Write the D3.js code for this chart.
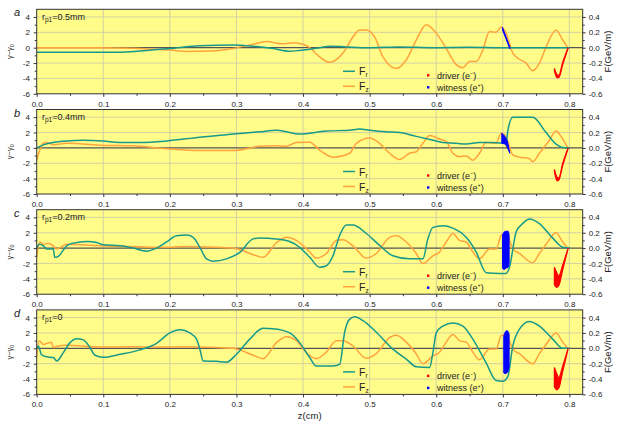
<!DOCTYPE html>
<html>
<head>
<meta charset="utf-8">
<script src="https://cdn.jsdelivr.net/npm/d3@7"></script>
<style>
body { margin: 0; background: #fff; }
text { font-family: Arial, "Liberation Sans", sans-serif; fill: #222; }
</style>
</head>
<body>
<div id="chart"></div>
<script>
// panel titles
var panelNames = ["a", "b", "c", "d"];
var panelRp = ["=0.5mm", "=0.4mm", "=0.2mm", "=0"];

// tick values
var xTicks = [0, 0.1, 0.2, 0.3, 0.4, 0.5, 0.6, 0.7, 0.8];
var xMinor = [0.05, 0.15, 0.25, 0.35, 0.45, 0.55, 0.65, 0.75];
var leftTicks = [-6, -4, -2, 0, 2, 4];
var leftMinor = [-5, -3, -1, 1, 3];
var rightTicks = [-0.6, -0.4, -0.2, 0, 0.2, 0.4];
var rightMinor = [-0.5, -0.3, -0.1, 0.1, 0.3];

// Fr (GeV/m)
var zFrA = [0, 0.06, 0.12, 0.16, 0.2, 0.245, 0.295, 0.325, 0.355, 0.38, 0.395, 0.425, 0.44, 0.465, 0.5, 0.545, 0.595, 0.65, 0.7, 0.75, 0.8];
var frA  = [-0.06, -0.06, -0.06, -0.04, -0.01, 0.026, 0.035, 0.02, -0.01, -0.045, -0.035, 0, 0.02, 0.01, 0, 0.01, 0, 0.005, 0, 0, 0];
var zFrB = [0, 0.01, 0.025, 0.045, 0.07, 0.1, 0.125, 0.155, 0.195, 0.245, 0.295, 0.335, 0.36, 0.38, 0.395, 0.435, 0.47, 0.485, 0.5, 0.525, 0.545, 0.57, 0.595, 0.61, 0.63, 0.645, 0.665, 0.685, 0.705, 0.7075, 0.715, 0.745, 0.765, 0.78, 0.79, 0.8];
var frB  = [0, 0.04, 0.07, 0.09, 0.1, 0.09, 0.07, 0.07, 0.09, 0.14, 0.18, 0.21, 0.23, 0.2, 0.18, 0.22, 0.23, 0.245, 0.23, 0.21, 0.2, 0.15, 0.1, 0.07, 0.06, 0.05, 0.07, 0.07, 0.06, 0.22, 0.4, 0.4, 0.2, 0.05, 0.005, 0];
var zFrC = [0, 0.0035, 0.01, 0.015, 0.025, 0.027, 0.032, 0.045, 0.055, 0.075, 0.09, 0.1, 0.125, 0.145, 0.165, 0.18, 0.195, 0.21, 0.225, 0.235, 0.245, 0.255, 0.265, 0.285, 0.305, 0.325, 0.335, 0.36, 0.38, 0.395, 0.41, 0.425, 0.435, 0.445, 0.455, 0.465, 0.475, 0.495, 0.515, 0.535, 0.56, 0.58, 0.5875, 0.595, 0.61, 0.625, 0.645, 0.66, 0.675, 0.695, 0.705, 0.71, 0.72, 0.73, 0.74, 0.755, 0.775, 0.79, 0.8];
var frC  = [-0.01, 0.05, 0.03, -0.01, -0.01, -0.12, -0.11, 0.03, 0.065, 0.087, 0.074, 0.043, 0.03, 0, -0.04, 0, 0.08, 0.16, 0.17, 0.14, 0.01, -0.14, -0.17, -0.14, -0.056, 0.12, 0.13, 0.12, 0.087, 0.01, -0.12, -0.25, -0.23, -0.1, 0.165, 0.3, 0.3, 0.19, 0.035, -0.1, -0.14, -0.14, 0.12, 0.27, 0.29, 0.26, 0.14, -0.05, -0.32, -0.33, -0.33, -0.25, 0.21, 0.32, 0.38, 0.32, 0.13, 0.01, 0];
var zFrD = [0, 0.0025, 0.007, 0.015, 0.025, 0.03, 0.04, 0.05, 0.06, 0.07, 0.08, 0.087, 0.1, 0.125, 0.155, 0.18, 0.2, 0.215, 0.23, 0.24, 0.245, 0.25, 0.27, 0.285, 0.3, 0.32, 0.34, 0.355, 0.38, 0.395, 0.41, 0.42, 0.445, 0.455, 0.4625, 0.47, 0.4775, 0.49, 0.51, 0.535, 0.555, 0.57, 0.59, 0.595, 0.6, 0.61, 0.625, 0.64, 0.655, 0.675, 0.69, 0.7, 0.7075, 0.715, 0.725, 0.74, 0.755, 0.775, 0.79, 0.8];
var frD  = [-0.01, 0.03, -0.08, -0.11, -0.12, -0.165, -0.056, 0.074, 0.126, 0.11, 0.01, -0.087, -0.117, -0.078, -0.02, 0.065, 0.2, 0.24, 0.2, 0.12, -0.01, -0.165, -0.17, -0.18, -0.078, 0.12, 0.26, 0.256, 0.2, 0.074, -0.12, -0.23, -0.23, -0.21, 0.21, 0.38, 0.41, 0.36, 0.21, -0.01, -0.14, -0.24, -0.25, -0.06, 0.2, 0.29, 0.33, 0.29, 0.12, -0.19, -0.42, -0.43, -0.37, 0.03, 0.25, 0.35, 0.29, 0.12, 0, 0];

// Fz (GeV/m)
var zFzA = [0, 0.095, 0.2, 0.225, 0.27, 0.295, 0.325, 0.345, 0.37, 0.385, 0.4, 0.41, 0.425, 0.44, 0.46, 0.475, 0.485, 0.495, 0.5075, 0.52, 0.54, 0.555, 0.57, 0.585, 0.6, 0.615, 0.63, 0.64, 0.65, 0.66, 0.67, 0.68, 0.69, 0.6975, 0.705, 0.715, 0.725, 0.735, 0.745, 0.755, 0.765, 0.78, 0.79, 0.7975];
var fzA  = [0, 0, -0.03, -0.05, -0.04, -0.01, 0.045, 0.08, 0.05, 0.065, 0.045, 0, -0.12, -0.19, -0.07, 0.14, 0.23, 0.23, 0.14, -0.12, -0.27, -0.16, 0.1, 0.3, 0.19, -0.01, -0.22, -0.26, -0.18, -0.18, -0.03, 0.21, 0.2, 0.27, 0.19, -0.07, -0.15, -0.2, -0.3, -0.2, 0.01, 0.23, 0.1, 0];
var zFzB = [0, 0.01, 0.015, 0.025, 0.045, 0.095, 0.145, 0.195, 0.245, 0.295, 0.335, 0.36, 0.375, 0.39, 0.41, 0.425, 0.445, 0.47, 0.48, 0.5, 0.515, 0.53, 0.545, 0.56, 0.57, 0.58, 0.59, 0.605, 0.615, 0.625, 0.635, 0.645, 0.655, 0.665, 0.675, 0.69, 0.6975, 0.705, 0.715, 0.725, 0.74, 0.745, 0.755, 0.77, 0.78, 0.7875, 0.7975];
var fzB  = [-0.16, 0.06, 0.07, 0.04, 0.06, 0.035, 0.027, -0.01, -0.035, -0.035, 0.02, 0.027, 0.02, 0.07, 0.075, -0.03, -0.12, -0.07, 0.06, 0.13, 0.06, -0.07, -0.15, -0.07, -0.05, 0.06, 0.16, 0.115, 0.085, -0.07, -0.115, -0.105, -0.16, -0.07, 0.07, 0.06, 0.19, 0.14, -0.09, -0.12, -0.14, -0.18, -0.07, 0.1, 0.22, 0.15, 0];
var zFzC = [0, 0.0045, 0.01, 0.017, 0.025, 0.03, 0.045, 0.095, 0.145, 0.195, 0.22, 0.27, 0.295, 0.33, 0.34, 0.36, 0.375, 0.39, 0.41, 0.42, 0.435, 0.45, 0.46, 0.475, 0.495, 0.51, 0.53, 0.54, 0.555, 0.57, 0.58, 0.595, 0.605, 0.615, 0.625, 0.635, 0.645, 0.655, 0.665, 0.68, 0.69, 0.6975, 0.705, 0.715, 0.725, 0.745, 0.755, 0.765, 0.78, 0.79, 0.7975];
var fzC  = [-0.12, 0.08, 0.05, 0.06, 0.03, -0.01, 0.05, 0.03, 0.02, 0.01, 0.02, 0.01, 0, -0.1, -0.12, 0.07, 0.14, 0.1, -0.05, -0.13, -0.07, 0.1, 0.11, 0.03, -0.13, -0.07, 0.14, 0.16, 0.08, -0.07, -0.2, -0.1, -0.05, 0.08, 0.19, 0.1, 0.08, -0.05, -0.14, -0.01, -0.01, 0.165, 0.19, -0.01, -0.07, -0.19, -0.07, 0.05, 0.2, 0.08, 0];
var zFzD = [0, 0.0035, 0.01, 0.017, 0.022, 0.025, 0.032, 0.045, 0.095, 0.145, 0.195, 0.22, 0.27, 0.295, 0.325, 0.34, 0.36, 0.375, 0.39, 0.405, 0.42, 0.435, 0.45, 0.46, 0.475, 0.495, 0.51, 0.53, 0.54, 0.555, 0.57, 0.58, 0.595, 0.605, 0.615, 0.625, 0.635, 0.645, 0.655, 0.665, 0.68, 0.69, 0.6975, 0.705, 0.715, 0.725, 0.745, 0.755, 0.765, 0.78, 0.79, 0.7975];
var fzD  = [-0.1, 0.1, 0.05, 0.07, 0.08, 0.01, 0.03, 0.04, 0.017, 0.02, 0.017, 0.02, 0.01, 0, -0.09, -0.135, 0.074, 0.15, 0.1, -0.056, -0.135, -0.05, 0.1, 0.1, 0.03, -0.13, -0.07, 0.14, 0.17, 0.08, -0.07, -0.2, -0.1, -0.05, 0.08, 0.18, 0.1, 0.08, -0.05, -0.15, -0.01, -0.01, 0.165, 0.18, -0.01, -0.07, -0.2, -0.07, 0.05, 0.2, 0.08, 0];

// witness bunch (gamma - gamma0): z, upper and lower edge
var zWitA = [0.6995, 0.705, 0.7105];
var witUpA = [2.65, 1.4, 0.1];
var witLoA = [2.35, 1.1, -0.15];
var zWitB = [0.6985, 0.703, 0.707, 0.7105];
var witUpB = [1.9, 1.5, 0.8, -0.7];
var witLoB = [0.6, 0.5, 0.0, -0.7];
var zWitC = [0.6995, 0.702, 0.705, 0.708, 0.7095];
var witUpC = [1.7, 2.1, 2.2, 2.2, 1.7];
var witLoC = [-2.6, -2.8, -2.6, -2.5, -2.0];
var zWitD = [0.7015, 0.7035, 0.706, 0.708, 0.7095];
var witUpD = [1.6, 2.1, 2.3, 2.2, 1.8];
var witLoD = [-3.2, -3.3, -3.2, -3.0, -2.5];

// driver bunch (gamma - gamma0)
var zDrvA = [0.7775, 0.7815, 0.784, 0.79, 0.798];
var drvUpA = [-2.7, -3.5, -3.6, -1.9, 0];
var drvLoA = [-3.0, -3.9, -3.9, -2.2, -0.1];
var zDrvB = [0.7775, 0.7815, 0.784, 0.79, 0.798];
var drvUpB = [-2.8, -3.8, -3.9, -2.0, 0];
var drvLoB = [-3.1, -4.3, -4.2, -2.3, -0.1];
var zDrvC = [0.7775, 0.781, 0.784, 0.79, 0.798];
var drvUpC = [-2.5, -3.2, -3.6, -2.2, 0];
var drvLoC = [-4.8, -5.1, -4.9, -2.8, -0.1];
var zDrvD = [0.7775, 0.781, 0.784, 0.79, 0.798];
var drvUpD = [-2.5, -3.3, -3.8, -2.3, 0];
var drvLoD = [-5.0, -5.4, -5.2, -3.0, -0.1];

var zFr = [zFrA, zFrB, zFrC, zFrD], fr = [frA, frB, frC, frD];
var zFz = [zFzA, zFzB, zFzC, zFzD], fz = [fzA, fzB, fzC, fzD];
var zWit = [zWitA, zWitB, zWitC, zWitD], witUp = [witUpA, witUpB, witUpC, witUpD], witLo = [witLoA, witLoB, witLoC, witLoD];
var zDrv = [zDrvA, zDrvB, zDrvC, zDrvD], drvUp = [drvUpA, drvUpB, drvUpC, drvUpD], drvLo = [drvLoA, drvLoB, drvLoC, drvLoD];

var svgWidth = 619, svgHeight = 426;
var plotLeft = 36.7, plotRight = 582.7;
var panelTops = [9.3, 109.5, 209.7, 309.9];
var panelH = 84.5;

var colFr = "#17998b", colFz = "#ffa43c";

var svg = d3.select("#chart").append("svg")
    .attr("width", svgWidth)
    .attr("height", svgHeight);

var x = d3.scaleLinear().domain([0, 0.82]).range([plotLeft, plotRight]);

panelTops.forEach(function(top, i) {
    var yL = d3.scaleLinear().domain([-6, 5]).range([top + panelH, top]);
    var yR = d3.scaleLinear().domain([-0.6, 0.5]).range([top + panelH, top]);
    var g = svg.append("g");

    // background
    g.append("rect")
        .attr("x", plotLeft).attr("y", top)
        .attr("width", plotRight - plotLeft).attr("height", panelH)
        .attr("fill", "#fffc8a");

    // grid
    g.selectAll(".vg").data(xTicks.slice(1)).enter().append("line")
        .attr("x1", d => x(d)).attr("x2", d => x(d))
        .attr("y1", top).attr("y2", top + panelH)
        .attr("stroke", "#c8c8a8").attr("stroke-width", 0.8);
    g.selectAll(".hg").data([-4, -2, 2, 4]).enter().append("line")
        .attr("x1", plotLeft).attr("x2", plotRight)
        .attr("y1", d => yL(d)).attr("y2", d => yL(d))
        .attr("stroke", "#c8c8a8").attr("stroke-width", 0.8);

    // zero line
    g.append("line")
        .attr("x1", plotLeft).attr("x2", plotRight)
        .attr("y1", yL(0)).attr("y2", yL(0))
        .attr("stroke", "#555").attr("stroke-width", 1.2);

    var clipId = "clip" + i;
    svg.append("clipPath").attr("id", clipId).append("rect")
        .attr("x", plotLeft).attr("y", top)
        .attr("width", plotRight - plotLeft).attr("height", panelH);
    var marks = g.append("g").attr("clip-path", "url(#" + clipId + ")");

    var line = d3.line().curve(d3.curveMonotoneX);

    marks.append("path")
        .attr("d", line(zFz[i].map((z, k) => [x(z), yR(fz[i][k])])))
        .attr("fill", "none").attr("stroke", colFz).attr("stroke-width", 1.5);
    marks.append("path")
        .attr("d", line(zFr[i].map((z, k) => [x(z), yR(fr[i][k])])))
        .attr("fill", "none").attr("stroke", colFr).attr("stroke-width", 1.5);

    var area = d3.area().curve(d3.curveMonotoneX)
        .x(d => x(d[0])).y0(d => yL(d[2])).y1(d => yL(d[1]));

    marks.append("path")
        .attr("d", area(zWit[i].map((z, k) => [z, witUp[i][k], witLo[i][k]])))
        .attr("fill", "#0000ff").attr("stroke", "#0000ff").attr("stroke-width", 1);
    marks.append("path")
        .attr("d", area(zDrv[i].map((z, k) => [z, drvUp[i][k], drvLo[i][k]])))
        .attr("fill", "#ff0000").attr("stroke", "#ff0000").attr("stroke-width", 1.2);

    // frame
    g.append("rect")
        .attr("x", plotLeft).attr("y", top)
        .attr("width", plotRight - plotLeft).attr("height", panelH)
        .attr("fill", "none").attr("stroke", "#333").attr("stroke-width", 1);

    // axes
    var fontSz = "8px";
    var bottom = g.append("g").attr("transform", `translate(0, ${top + panelH})`)
        .call(d3.axisBottom(x).tickValues(xTicks).tickSize(3).tickFormat(d3.format(".1f")));
    g.append("g").attr("transform", `translate(0, ${top + panelH})`)
        .call(d3.axisBottom(x).tickValues(xMinor).tickSize(2).tickFormat(""));
    var left = g.append("g").attr("transform", `translate(${plotLeft}, 0)`)
        .call(d3.axisLeft(yL).tickValues(leftTicks).tickSize(3).tickFormat(d => String(d)));
    g.append("g").attr("transform", `translate(${plotLeft}, 0)`)
        .call(d3.axisLeft(yL).tickValues(leftMinor).tickSize(2).tickFormat(""));
    var right = g.append("g").attr("transform", `translate(${plotRight}, 0)`)
        .call(d3.axisRight(yR).tickValues(rightTicks).tickSize(3).tickFormat(d => d.toFixed(1)));
    g.append("g").attr("transform", `translate(${plotRight}, 0)`)
        .call(d3.axisRight(yR).tickValues(rightMinor).tickSize(2).tickFormat(""));

    g.selectAll(".domain").remove();
    g.selectAll(".tick line").attr("stroke", "#333");
    g.selectAll(".tick text").attr("font-size", fontSz)
        .attr("font-family", "Arial, 'Liberation Sans', sans-serif").attr("fill", "#222");
    bottom.selectAll(".tick text").attr("dy", "0.85em");
    left.selectAll(".tick text").attr("dx", "-0.1em");

    // panel letter
    svg.append("text")
        .attr("x", 14).attr("y", top + 7)
        .attr("font-size", "11px").attr("font-style", "italic")
        .text(panelNames[i]);

    // r_p1 label
    var rp = svg.append("text")
        .attr("x", 42).attr("y", top + 10.5)
        .attr("font-size", "9px");
    rp.append("tspan").text("r");
    rp.append("tspan").attr("font-size", "6.5px").attr("dy", "2").text("p1");
    rp.append("tspan").attr("dy", "-2").text(panelRp[i]);

    // y labels
    var midY = top + panelH / 2;
    var yl = svg.append("text")
        .attr("transform", `translate(12, ${midY}) rotate(-90)`)
        .attr("text-anchor", "middle").attr("font-size", "7.5px");
    yl.append("tspan").text("\u03b3\u2212\u03b3");
    yl.append("tspan").attr("font-size", "5.5px").attr("dy", "1.5").text("0");

    svg.append("text")
        .attr("transform", `translate(611, ${midY}) rotate(-90)`)
        .attr("text-anchor", "middle").attr("font-size", "9.5px")
        .text("F(GeV/m)");

    // legends
    var lg = svg.append("g");
    [["r", colFr, 62], ["z", colFz, 77]].forEach(function(e) {
        lg.append("line")
            .attr("x1", 343).attr("x2", 355)
            .attr("y1", top + e[2]).attr("y2", top + e[2])
            .attr("stroke", e[1]).attr("stroke-width", 1.5);
        var t = lg.append("text").attr("x", 359).attr("y", top + e[2] + 4).attr("font-size", "10.5px");
        t.append("tspan").text("F");
        t.append("tspan").attr("font-size", "6.5px").attr("dy", "2").text(e[0]);
    });
    [["driver (e", "\u2212", ")", "#ff0000", 66], ["witness (e", "+", ")", "#0000ff", 78]].forEach(function(e) {
        lg.append("rect")
            .attr("x", 427).attr("y", top + e[4] - 1.2)
            .attr("width", 2.4).attr("height", 2.4)
            .attr("fill", e[3]);
        var t = lg.append("text").attr("x", 437).attr("y", top + e[4] + 3.2).attr("font-size", "9px");
        t.append("tspan").text(e[0]);
        t.append("tspan").attr("font-size", "5.5px").attr("dy", "-3.5").text(e[1]);
        t.append("tspan").attr("dy", "3.5").text(e[2]);
    });
});

// x axis title
svg.append("text")
    .attr("x", (plotLeft + plotRight) / 2).attr("y", 419)
    .attr("text-anchor", "middle").attr("font-size", "9.5px")
    .text("z(cm)");
</script>
</body>
</html>
